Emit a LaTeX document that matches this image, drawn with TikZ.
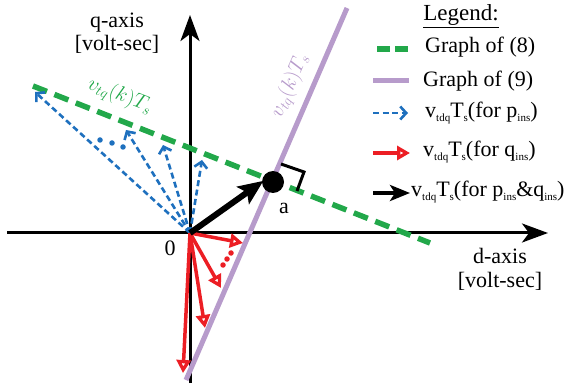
\documentclass[tikz,border=0pt]{standalone}
\usepackage{fontspec}
\setmainfont{Liberation Serif}
\usetikzlibrary{arrows.meta}
\definecolor{cgreen}{RGB}{34,168,74}
\definecolor{cpurple}{RGB}{183,155,203}
\definecolor{cblue}{RGB}{30,112,190}
\definecolor{cred}{RGB}{236,30,36}
\newcommand{\sbx}[1]{\raisebox{-0.22em}{\fontsize{11}{12}\selectfont #1}}
\begin{document}
\begin{tikzpicture}[x=1pt,y=1pt,
  lbl/.style={font=\rmfamily\fontsize{22}{24}\selectfont, inner sep=0pt},
  axisline/.style={line width=3pt, -{Stealth[length=26pt,width=19pt,inset=7pt]}},
  greenline/.style={cgreen, line width=5.5pt, dash pattern=on 15pt off 8pt},
  purpleline/.style={cpurple, line width=5pt},
  bluearrow/.style={cblue, line width=2.6pt, dash pattern=on 6pt off 3.5pt, -{Straight Barb[length=6pt,width=13pt]}},
  redarrow/.style={cred, line width=3.5pt, -{Triangle[open,length=13pt,width=14pt]}},
  blackarrow/.style={black, line width=6pt, -{Stealth[length=25pt,width=21pt,inset=5pt]}},
  dotb/.style={circle, fill=cblue, inner sep=0pt, minimum size=5.5pt},
  dotr/.style={circle, fill=cred, inner sep=0pt, minimum size=5.5pt}]
\useasboundingbox (0,0) rectangle (567,383);
% axes
\coordinate (O) at (190,150);
\coordinate (xl) at (7,150);
\coordinate (xr) at (548,150);
\coordinate (yb) at (190,0);
\coordinate (yt) at (190,368);
\draw[axisline] (xl) -- (xr);
\draw[axisline] (yb) -- (yt);
% graph lines
\coordinate (g1) at (33,297);
\coordinate (g2) at (430,140);
\draw[greenline] (g1) -- (g2);
\coordinate (p1) at (347,375);
\coordinate (p2) at (186,3);
\draw[purpleline] (p2) -- (p1);
% right angle marker
\coordinate (r1) at (281,219);
\coordinate (r2) at (304,211);
\coordinate (r3) at (297,192);
\draw[line width=3pt] (r1) -- (r2) -- (r3);
% blue arrows
\coordinate (b1) at (35,291);
\coordinate (b2) at (126,253);
\coordinate (b3) at (163,238);
\coordinate (b4) at (202,223);
\foreach \t in {b1,b2,b3,b4} \draw[bluearrow] (O) -- (\t);
\node[dotb] (bd1) at (100,243) {};
\node[dotb] (bd2) at (112,240) {};
\node[dotb] (bd3) at (123,236) {};
% red arrows
\coordinate (q1) at (243,140);
\coordinate (q2) at (221,95);
\coordinate (q3) at (205,55);
\coordinate (q4) at (183,10);
\foreach \t in {q1,q2,q3,q4} \draw[redarrow] (O) -- (\t);
\node[dotr] (rd1) at (231,130) {};
\node[dotr] (rd2) at (227,124) {};
\node[dotr] (rd3) at (223,118) {};
% point a and black arrow
\node[circle, fill=black, inner sep=0pt, minimum size=22pt] (a) at (273,201) {};
\draw[blackarrow, shorten >=-2pt] (O) -- (a.west);
% labels
\node[lbl] (zero) at (170,135) {0};
\node[lbl] (alab) at (284,175) {a};
\node[lbl, align=center] (qax) at (117,350) {q-axis\\[-1pt][volt-sec]};
\node[lbl, align=center] (dax) at (500,114) {d-axis\\[0pt][volt-sec]};
\node[lbl, text=cgreen, rotate=-21.5] (glab) at (120,287) {$v_{tq}(k)T_s$};
\node[lbl, text=cpurple, rotate=66.6] (plab) at (290,297) {$v_{tq}(k)T_s$};
% legend
\node[lbl, font=\rmfamily\fontsize{23}{25}\selectfont] (leg) at (461,367) {\underline{Legend:}};
\coordinate (l1a) at (377,334); \coordinate (l1b) at (408,334);
\draw[cgreen, line width=5.5pt, dash pattern=on 13pt off 5pt] (l1a) -- (l1b);
\node[lbl, anchor=west] (t1) at (425,336) {Graph of (8)};
\coordinate (l2a) at (373,302); \coordinate (l2b) at (409,302);
\draw[purpleline] (l2a) -- (l2b);
\node[lbl, anchor=west] (t2) at (423,302) {Graph of (9)};
\coordinate (l3a) at (373,270); \coordinate (l3b) at (408,270);
\draw[bluearrow] (l3a) -- (l3b);
\node[lbl, anchor=west] (t3) at (425,270) {v\sbx{tdq}T\sbx{s}(for p\sbx{ins})};
\coordinate (l4a) at (373,230); \coordinate (l4b) at (410,230);
\draw[redarrow] (l4a) -- (l4b);
\node[lbl, anchor=west] (t4) at (423,231) {v\sbx{tdq}T\sbx{s}(for q\sbx{ins})};
\coordinate (l5a) at (373,190); \coordinate (l5b) at (410,190);
\draw[black, line width=4pt, -{Stealth[length=20pt,width=16pt,inset=5pt]}] (l5a) -- (l5b);
\node[lbl, anchor=west] (t5) at (411,191) {v\sbx{tdq}T\sbx{s}(for p\sbx{ins}\&q\sbx{ins})};
\end{tikzpicture}
\end{document}
